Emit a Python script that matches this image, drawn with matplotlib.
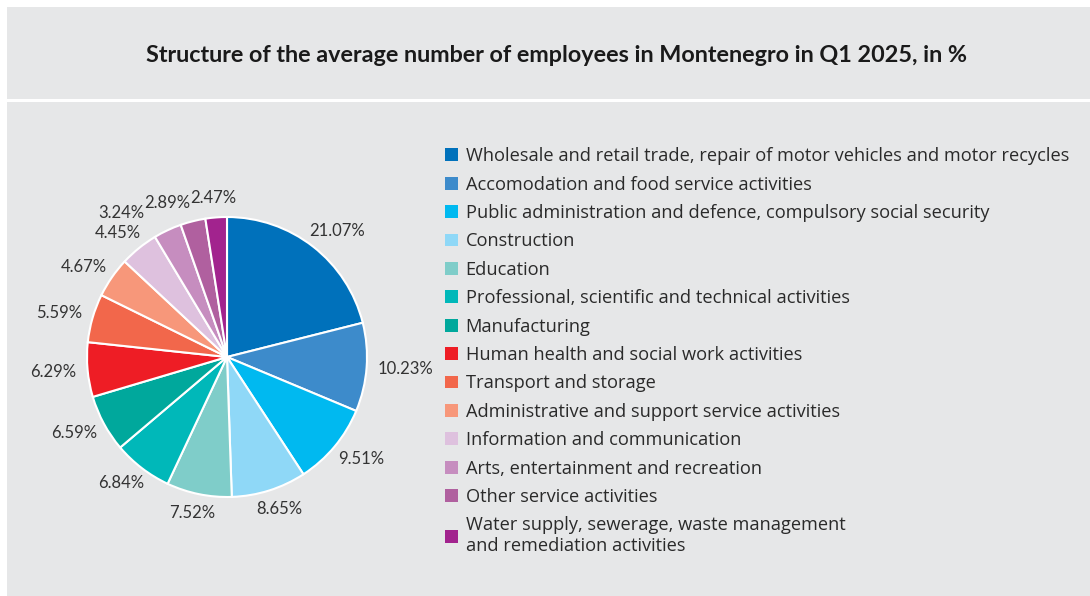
import numpy as np
import matplotlib.pyplot as plt
from matplotlib.patches import Rectangle

categories = [
    "Wholesale and retail trade, repair of motor vehicles and motor recycles",
    "Accomodation and food service activities",
    "Public administration and defence, compulsory social security",
    "Construction",
    "Education",
    "Professional, scientific and technical activities",
    "Manufacturing",
    "Human health and social work activities",
    "Transport and storage",
    "Administrative and support service activities",
    "Information and communication",
    "Arts, entertainment and recreation",
    "Other service activities",
    "Water supply, sewerage, waste management\nand remediation activities",
]
shares = [21.07, 10.23, 9.51, 8.65, 7.52, 6.84, 6.59, 6.29, 5.59, 4.67, 4.45, 3.24, 2.89, 2.47]
colors = ["#0071bb", "#3d8bcb", "#00b9f0", "#8fd8f7", "#7fcdc9", "#00b8b9",
          "#00a89c", "#ee1d25", "#f2674b", "#f7977a", "#dec1de", "#c68dbf",
          "#b0609f", "#a2238e"]

W, H = 1090, 596
bg = "#e6e7e8"
fig = plt.figure(figsize=(W / 100, H / 100), dpi=100)
fig.patch.set_facecolor("white")

# grey panels
fig.patches.append(Rectangle((7 / W, 1 - 99 / H), 1, 92 / H, transform=fig.transFigure,
                             facecolor=bg, edgecolor="none", zorder=-5))
fig.patches.append(Rectangle((7 / W, 0), 1, 1 - 102 / H, transform=fig.transFigure,
                             facecolor=bg, edgecolor="none", zorder=-5))

fig.text(556 / W, 1 - 55 / H,
         "Structure of the average number of employees in Montenegro in Q1 2025, in %",
         ha="center", va="center", fontsize=16.8, fontweight="bold",
         family="Lato", color="#1a1a1a")

cx, cy, r = 227, 357, 140
ax = fig.add_axes([(cx - r) / W, (H - cy - r) / H, 2 * r / W, 2 * r / H])
ax.set_zorder(2)
wedges, texts = ax.pie(shares, colors=colors, startangle=90, counterclock=False,
                       labels=[f"{v:.2f}%" for v in shares], labeldistance=1.1,
                       wedgeprops=dict(edgecolor="white", linewidth=1.5),
                       textprops=dict(fontsize=12, family="Lato",
                                      color="#333333"))
ax.set_xlim(-1, 1)
ax.set_ylim(-1, 1)
ax.set_aspect("equal")
ax.axis("off")

# put each label just outside its slice, then nudge sideways where two collide
fig.canvas.draw()
rend = fig.canvas.get_renderer()
placed = []
for w, t in reversed(list(zip(wedges, texts))):
    th = np.deg2rad((w.theta1 + w.theta2) / 2)
    bb = t.get_window_extent(rend)
    hw, hh = bb.width / 2 / r, bb.height / 2 / r
    x = 1.08 * np.cos(th) + hw * np.cos(th)
    y = 1.08 * np.sin(th) + hh * np.sin(th)
    for px, py, pw, ph in placed:
        if abs(x - px) < hw + pw and abs(y - py) < hh + ph:
            step = hw + pw - abs(x - px)
            x += -step if x < 0 else step
    placed.append((x, y, hw, hh))
    t.set_position((x, y))
    t.set_ha("center")
    t.set_va("center")

leg = fig.legend(wedges, categories, loc="upper left",
                 bbox_to_anchor=(436 / W, 1 - 138 / H), frameon=False,
                 prop=dict(family="Open Sans", size=13.15), labelcolor="#2a2a2a",
                 handlelength=0.7, handleheight=0.7, handletextpad=0.42,
                 labelspacing=0.57, borderpad=0)
for h in leg.legend_handles:
    h.set_edgecolor("none")
fig.savefig("out.png", dpi=100, facecolor="white")
